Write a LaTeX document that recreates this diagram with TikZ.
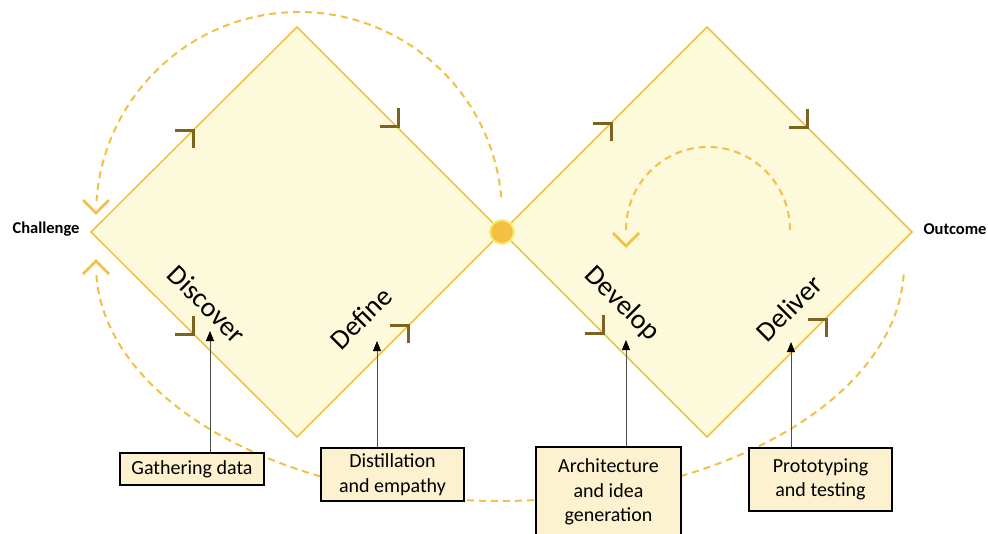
\documentclass[tikz,border=0pt]{standalone}
\usepackage{fontspec}
\setmainfont{Carlito}
\usetikzlibrary{arrows.meta}
\definecolor{gold}{HTML}{F2C143}
\definecolor{paleyellow}{HTML}{FDFADB}
\definecolor{tickbrown}{HTML}{7D6220}
\definecolor{boxfill}{HTML}{FDF2CF}
\definecolor{dotfill}{HTML}{F3C041}
\definecolor{dotrim}{HTML}{F4EF7C}
\begin{document}
\begin{tikzpicture}[x=1pt,y=-1pt,
  phase/.style={draw=gold, line width=1.5pt, fill=paleyellow, line join=miter},
  loop/.style={draw=gold, line width=2pt, dash pattern=on 7pt off 5pt},
  chev/.style={draw=gold, line width=2.5pt, line join=miter},
  tickmark/.style={draw=tickbrown, line width=3pt},
  stage/.style={font=\fontsize{28}{30}\selectfont, inner sep=0pt},
  endlabel/.style={font=\fontsize{16.5}{18}\selectfont\bfseries, inner sep=0pt},
  note/.style={draw=black, line width=1.5pt, fill=boxfill, align=center, inner sep=0pt,
    font=\fontsize{20}{24.5}\selectfont},
  pointer/.style={draw=black!70, line width=0.8pt, -{Triangle[length=10pt,width=8pt,color=black]}},
  ne tick/.pic={\draw[tickmark] (-18,0) -- (0,0) -- (0,18);},
  se tick/.pic={\draw[tickmark] (-18,0) -- (0,0) -- (0,-18);},
  down chev/.pic={\draw[chev] (-13,-13) -- (0,0) -- (13,-13);},
  up chev/.pic={\draw[chev] (-13,13) -- (0,0) -- (13,13);},
]
\useasboundingbox (0,0) rectangle (988,533);
\fill[white] (0,0) rectangle (988,533);
\begin{scope}
\clip (0,0) rectangle (988,533);

% the two diamonds
\draw[phase] (91,232) -- (297,27) -- (502,232) -- (297,437) -- cycle;
\draw[phase] (502,232) -- (707,27) -- (912,232) -- (707,437) -- cycle;

% dashed feedback loops
\draw[loop] (299,215) ++(-5:203) arc[start angle=-5, end angle=-176, radius=203];
\pic at (96,213) {down chev};
\draw[loop] (500,265) ++(177.5:404 and 236) arc[start angle=177.5, end angle=2, x radius=404, y radius=236];
\pic at (96,261) {up chev};
\draw[loop] (708,230) ++(0:82) arc[start angle=0, end angle=-180, x radius=82, y radius=83];
\pic at (626,246) {down chev};

% meeting point
\node[circle, fill=dotfill, draw=dotrim, line width=2pt, minimum size=24pt, inner sep=0pt] (hub) at (502,232) {};

% direction ticks on the edges
\pic at (193,130) {ne tick};
\pic at (398,126) {se tick};
\pic at (193,334) {se tick};
\pic at (408,325) {ne tick};
\pic at (611,123) {ne tick};
\pic at (807,127) {se tick};
\pic at (603,333) {se tick};
\pic at (826,319) {ne tick};

% phase names
\node[stage, rotate=-45] (discover) at (207,304) {Discover};
\node[stage, rotate=45] (define) at (361,318) {Define};
\node[stage, rotate=-45] (develop) at (622,304) {Develop};
\node[stage, rotate=45] (deliver) at (789,308) {Deliver};

\node[endlabel] (challenge) at (46,229) {Challenge};
\node[endlabel] (outcome) at (955,229) {Outcome};

% activity boxes
\node[note, minimum width=144pt, minimum height=32pt] (gather) at (192,469) {Gathering data};
\node[note, minimum width=143pt, minimum height=53pt] (distil) at (392.5,474.5) {Distillation\\and empathy};
\node[note, minimum width=145pt, minimum height=90pt] (arch) at (608.5,492) {Architecture\\and idea\\generation};
\node[note, minimum width=143pt, minimum height=63pt] (proto) at (820.5,479.5) {Prototyping\\and testing};

% pointers from boxes to phases
\coordinate (tipA) at (210,331);
\coordinate (tipB) at (377,341);
\coordinate (tipC) at (626,340);
\coordinate (tipD) at (791,342);
\draw[pointer] (gather.north -| tipA) -- (tipA);
\draw[pointer] (distil.north -| tipB) -- (tipB);
\draw[pointer] (arch.north -| tipC) -- (tipC);
\draw[pointer] (proto.north -| tipD) -- (tipD);
\end{scope}
\end{tikzpicture}
\end{document}
